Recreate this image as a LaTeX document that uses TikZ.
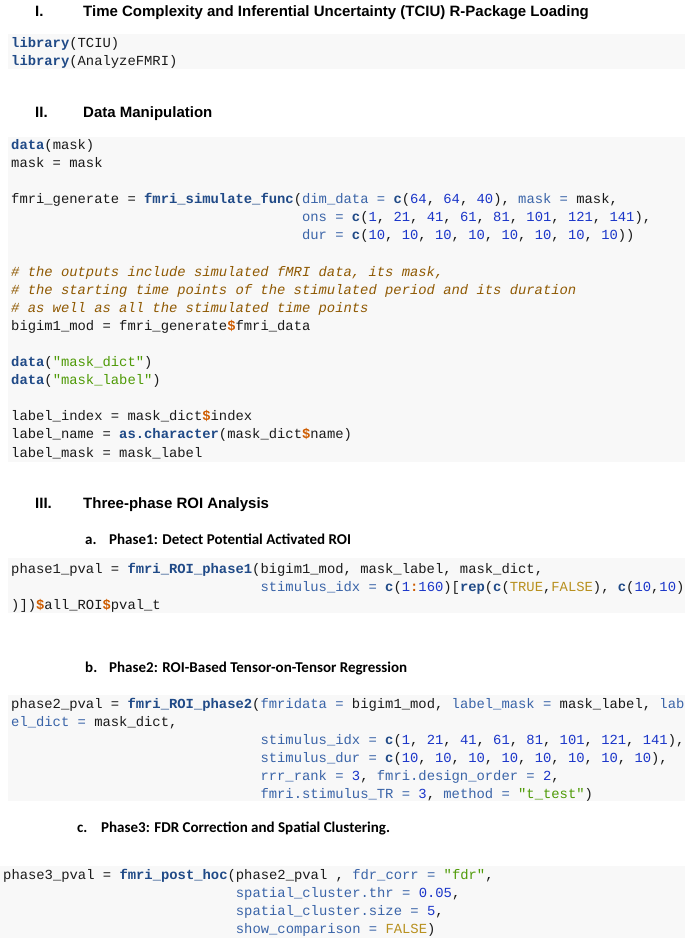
\documentclass[tikz,border=0pt]{standalone}
\usepackage{fontspec}
\usepackage{xcolor}
\newfontfamily\codefont{Liberation Mono}
\newfontfamily\headfont{Liberation Sans}
\newfontfamily\subfont{Carlito}
\definecolor{boxbg}{HTML}{F8F8F8}
\definecolor{fncol}{HTML}{204A87}
\definecolor{argcol}{HTML}{3A64A8}
\definecolor{numcol}{HTML}{1A35C9}
\definecolor{strcol}{HTML}{4E9A06}
\definecolor{cmtcol}{HTML}{8F5902}
\definecolor{opcol}{HTML}{CE5C00}
\definecolor{cstcol}{HTML}{B8901E}
\definecolor{txtcol}{HTML}{1A1A1A}
\newcommand\Rfn[1]{\textcolor{fncol}{\bfseries #1}}
\newcommand\Rar[1]{\textcolor{argcol}{#1}}
\newcommand\Rnum[1]{\textcolor{numcol}{#1}}
\newcommand\Rstr[1]{\textcolor{strcol}{#1}}
\newcommand\Rcmt[1]{\textcolor{cmtcol}{\itshape #1}}
\newcommand\Rcst[1]{\textcolor{cstcol}{#1}}
\newcommand\Rdol{\textcolor{opcol}{\bfseries\$}}
\newcommand\Rcol{\textcolor{opcol}{\bfseries :}}
\begin{document}
\begin{tikzpicture}[x=1pt,y=-1pt,
  codeline/.style={anchor=base west, inner sep=0pt, text=txtcol,
    font=\codefont\fontsize{13.85}{17.8}\selectfont},
  headtxt/.style={anchor=base west, inner sep=0pt, text=black,
    font=\headfont\bfseries\fontsize{15}{18}\selectfont},
  subtxt/.style={anchor=base west, inner sep=0pt, text=black,
    font=\subfont\bfseries\fontsize{15}{18}\selectfont},
  codebox/.style={fill=boxbg, draw=none}]
\def\cw{8.311}
\useasboundingbox (0,0) rectangle (685,938);
\fill[white] (0,0) rectangle (685,938);
% code boxes
\path[codebox] (8,34) rectangle (685,69);
\path[codebox] (8,137) rectangle (685,462);
\path[codebox] (8,558) rectangle (685,613);
\path[codebox] (8,695) rectangle (685,801);
\path[codebox] (0,866) rectangle (685,938);
% headings
\node[headtxt] (h1n) at (35,16) {I.};
\node[headtxt] (h1t) at (83,16) {Time Complexity and Inferential Uncertainty (TCIU) R-Package Loading};
\node[headtxt] (h2n) at (35,117) {II.};
\node[headtxt] (h2t) at (83,117) {Data Manipulation};
\node[headtxt] (h3n) at (35,508) {III.};
\node[headtxt] (h3t) at (83,508) {Three-phase ROI Analysis};
\node[subtxt] (sa) at (85,544) {a.};
\node[subtxt] (sat) at (109,544) {Phase1: Detect Potential Activated ROI};
\node[subtxt] (sb) at (85,672) {b.};
\node[subtxt] (sbt) at (109,672) {Phase2: ROI-Based Tensor-on-Tensor Regression};
\node[subtxt] (sc) at (77,832) {c.};
\node[subtxt] (sct) at (101,832) {Phase3: FDR Correction and Spatial Clustering.};
% box 1
\node[codeline] (b1a) at (11,47.3) {\Rfn{library}(TCIU)};
\node[codeline] (b1b) at (11,65.3) {\Rfn{library}(AnalyzeFMRI)};
% box 2
\node[codeline] (b2a) at (11,149.3) {\Rfn{data}(mask)};
\node[codeline] (b2b) at (11,167.4) {mask = mask};
\node[codeline] (b2c) at (11,203.6) {fmri\_generate = \Rfn{fmri\_simulate\_func}(\Rar{dim\_data =} \Rfn{c}(\Rnum{64}, \Rnum{64}, \Rnum{40}), \Rar{mask =} mask,};
\node[codeline] (b2d) at ({11+35*\cw},221.7) {\Rar{ons =} \Rfn{c}(\Rnum{1}, \Rnum{21}, \Rnum{41}, \Rnum{61}, \Rnum{81}, \Rnum{101}, \Rnum{121}, \Rnum{141}),};
\node[codeline] (b2e) at ({11+35*\cw},239.8) {\Rar{dur =} \Rfn{c}(\Rnum{10}, \Rnum{10}, \Rnum{10}, \Rnum{10}, \Rnum{10}, \Rnum{10}, \Rnum{10}, \Rnum{10}))};
\node[codeline] (b2f) at (11,276.0) {\Rcmt{\# the outputs include simulated fMRI data, its mask,}};
\node[codeline] (b2g) at (11,294.1) {\Rcmt{\# the starting time points of the stimulated period and its duration}};
\node[codeline] (b2h) at (11,312.2) {\Rcmt{\# as well as all the stimulated time points}};
\node[codeline] (b2i) at (11,330.3) {bigim1\_mod = fmri\_generate\Rdol fmri\_data};
\node[codeline] (b2j) at (11,366.5) {\Rfn{data}(\Rstr{"mask\_dict"})};
\node[codeline] (b2k) at (11,384.6) {\Rfn{data}(\Rstr{"mask\_label"})};
\node[codeline] (b2l) at (11,420.8) {label\_index = mask\_dict\Rdol index};
\node[codeline] (b2m) at (11,438.9) {label\_name = \Rfn{as.character}(mask\_dict\Rdol name)};
\node[codeline] (b2n) at (11,457.0) {label\_mask = mask\_label};
% box 3
\node[codeline] (b3a) at (11,573.3) {phase1\_pval = \Rfn{fmri\_ROI\_phase1}(bigim1\_mod, mask\_label, mask\_dict,};
\node[codeline] (b3b) at ({11+30*\cw},591.3) {\Rar{stimulus\_idx =} \Rfn{c}(\Rnum{1}\Rcol\Rnum{160})[\Rfn{rep}(\Rfn{c}(\Rcst{TRUE},\Rcst{FALSE}), \Rfn{c}(\Rnum{10},\Rnum{10})};
\node[codeline] (b3c) at (11,609.3) {)])\Rdol all\_ROI\Rdol pval\_t};
% box 4
\node[codeline] (b4a) at (11,708.3) {phase2\_pval = \Rfn{fmri\_ROI\_phase2}(\Rar{fmridata =} bigim1\_mod, \Rar{label\_mask =} mask\_label, \Rar{lab}};
\node[codeline] (b4b) at (11,726.3) {\Rar{el\_dict =} mask\_dict,};
\node[codeline] (b4c) at ({11+30*\cw},744.3) {\Rar{stimulus\_idx =} \Rfn{c}(\Rnum{1}, \Rnum{21}, \Rnum{41}, \Rnum{61}, \Rnum{81}, \Rnum{101}, \Rnum{121}, \Rnum{141}),};
\node[codeline] (b4d) at ({11+30*\cw},762.3) {\Rar{stimulus\_dur =} \Rfn{c}(\Rnum{10}, \Rnum{10}, \Rnum{10}, \Rnum{10}, \Rnum{10}, \Rnum{10}, \Rnum{10}, \Rnum{10}),};
\node[codeline] (b4e) at ({11+30*\cw},780.3) {\Rar{rrr\_rank =} \Rnum{3}, \Rar{fmri.design\_order =} \Rnum{2},};
\node[codeline] (b4f) at ({11+30*\cw},798.3) {\Rar{fmri.stimulus\_TR =} \Rnum{3}, \Rar{method =} \Rstr{"t\_test"})};
% box 5
\node[codeline] (b5a) at (3,879.3) {phase3\_pval = \Rfn{fmri\_post\_hoc}(phase2\_pval , \Rar{fdr\_corr =} \Rstr{"fdr"},};
\node[codeline] (b5b) at ({3+28*\cw},897.3) {\Rar{spatial\_cluster.thr =} \Rnum{0.05},};
\node[codeline] (b5c) at ({3+28*\cw},915.3) {\Rar{spatial\_cluster.size =} \Rnum{5},};
\node[codeline] (b5d) at ({3+28*\cw},933.3) {\Rar{show\_comparison =} \Rcst{FALSE})};
\end{tikzpicture}
\end{document}
